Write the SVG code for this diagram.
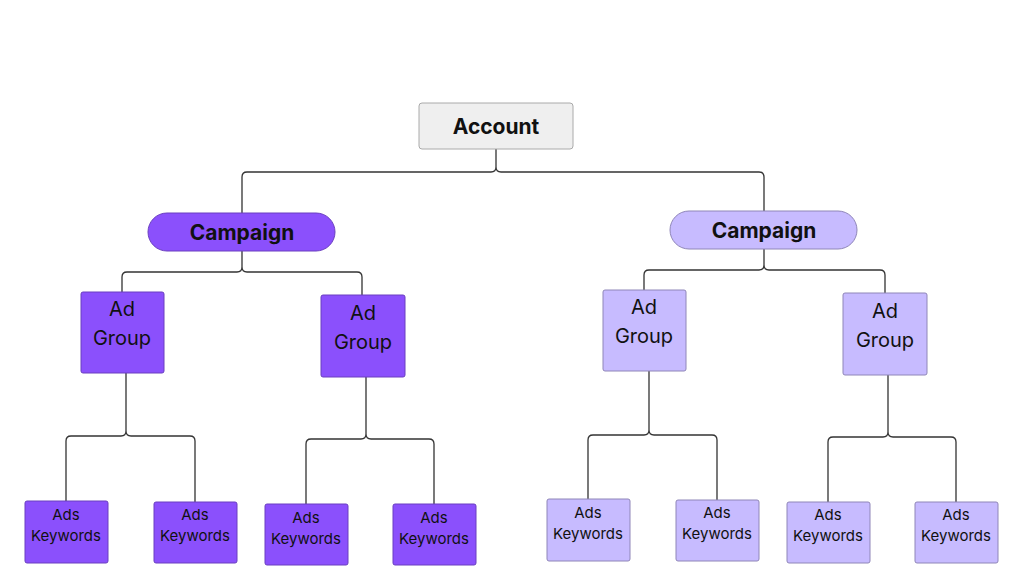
<svg xmlns="http://www.w3.org/2000/svg" width="1024" height="576" viewBox="0 0 1024 576">
<style>
.c{fill:none;stroke:#333;stroke-width:1.3}
.dk{fill:#8b50fc;stroke:#6a3fc0;stroke-width:1}
.lt{fill:#c7bbff;stroke:#8f86b8;stroke-width:1}
.t{font-family:Inter,"Liberation Sans",sans-serif;fill:#111;text-anchor:middle}
.b{font-weight:bold;font-size:21px}
.g{font-size:20px}
.k{font-size:15px}
</style>
<rect width="1024" height="576" fill="#fff"/>
<g id="connectors">
<path class="c" d="M496 149V167Q496 172 491 172H247Q242 172 242 177V213M496 167Q496 172 501 172H759Q764 172 764 177V211"/>
<path class="c" d="M242 251V267Q242 272 237 272H127Q122 272 122 277V292M242 267Q242 272 247 272H357Q362 272 362 277V295"/>
<path class="c" d="M764 249V265Q764 270 759 270H649Q644 270 644 275V290M764 265Q764 270 769 270H880Q885 270 885 275V293"/>
<path class="c" d="M126 373V431Q126 436 121 436H71Q66 436 66 441V502M126 431Q126 436 131 436H190Q195 436 195 441V502"/>
<path class="c" d="M366 377V434Q366 439 361 439H311Q306 439 306 444V504M366 434Q366 439 371 439H429Q434 439 434 444V504"/>
<path class="c" d="M649 371V430Q649 435 644 435H593Q588 435 588 440V499M649 430Q649 435 654 435H712Q717 435 717 440V500"/>
<path class="c" d="M888 375V432Q888 437 883 437H833Q828 437 828 442V502M888 432Q888 437 893 437H951Q956 437 956 442V502"/>
</g>
<g id="account"><rect x="419" y="103" width="154" height="46" rx="3" fill="#efefef" stroke="#aaa"/><text class="t b" x="496" y="134">Account</text></g>
<g id="campaign1"><rect class="dk" x="148" y="213" width="187" height="38" rx="19"/><text class="t b" x="242" y="240">Campaign</text></g>
<g id="campaign2"><rect class="lt" x="670" y="211" width="187" height="38" rx="19"/><text class="t b" x="764" y="238">Campaign</text></g>
<g id="ag1"><rect class="dk" x="81" y="292" width="83" height="81" rx="2"/><text class="t g" x="122" y="316">Ad</text><text class="t g" x="122" y="345">Group</text></g>
<g id="ag2"><rect class="dk" x="321" y="295" width="84" height="82" rx="2"/><text class="t g" x="363" y="320">Ad</text><text class="t g" x="363" y="349">Group</text></g>
<g id="ag3"><rect class="lt" x="603" y="290" width="83" height="81" rx="2"/><text class="t g" x="644" y="314">Ad</text><text class="t g" x="644" y="343">Group</text></g>
<g id="ag4"><rect class="lt" x="843" y="293" width="84" height="82" rx="2"/><text class="t g" x="885" y="318">Ad</text><text class="t g" x="885" y="347">Group</text></g>
<g id="kw1"><rect class="dk" x="25" y="501" width="83" height="62" rx="2"/><text class="t k" x="66" y="520">Ads</text><text class="t k" x="66" y="541">Keywords</text></g>
<g id="kw2"><rect class="dk" x="154" y="502" width="83" height="61" rx="2"/><text class="t k" x="195" y="520">Ads</text><text class="t k" x="195" y="541">Keywords</text></g>
<g id="kw3"><rect class="dk" x="265" y="504" width="83" height="61" rx="2"/><text class="t k" x="306" y="523">Ads</text><text class="t k" x="306" y="544">Keywords</text></g>
<g id="kw4"><rect class="dk" x="393" y="504" width="83" height="61" rx="2"/><text class="t k" x="434" y="523">Ads</text><text class="t k" x="434" y="544">Keywords</text></g>
<g id="kw5"><rect class="lt" x="547" y="499" width="83" height="62" rx="2"/><text class="t k" x="588" y="518">Ads</text><text class="t k" x="588" y="539">Keywords</text></g>
<g id="kw6"><rect class="lt" x="676" y="500" width="83" height="61" rx="2"/><text class="t k" x="717" y="518">Ads</text><text class="t k" x="717" y="539">Keywords</text></g>
<g id="kw7"><rect class="lt" x="787" y="502" width="83" height="61" rx="2"/><text class="t k" x="828" y="520">Ads</text><text class="t k" x="828" y="541">Keywords</text></g>
<g id="kw8"><rect class="lt" x="915" y="502" width="83" height="61" rx="2"/><text class="t k" x="956" y="520">Ads</text><text class="t k" x="956" y="541">Keywords</text></g>
</svg>
